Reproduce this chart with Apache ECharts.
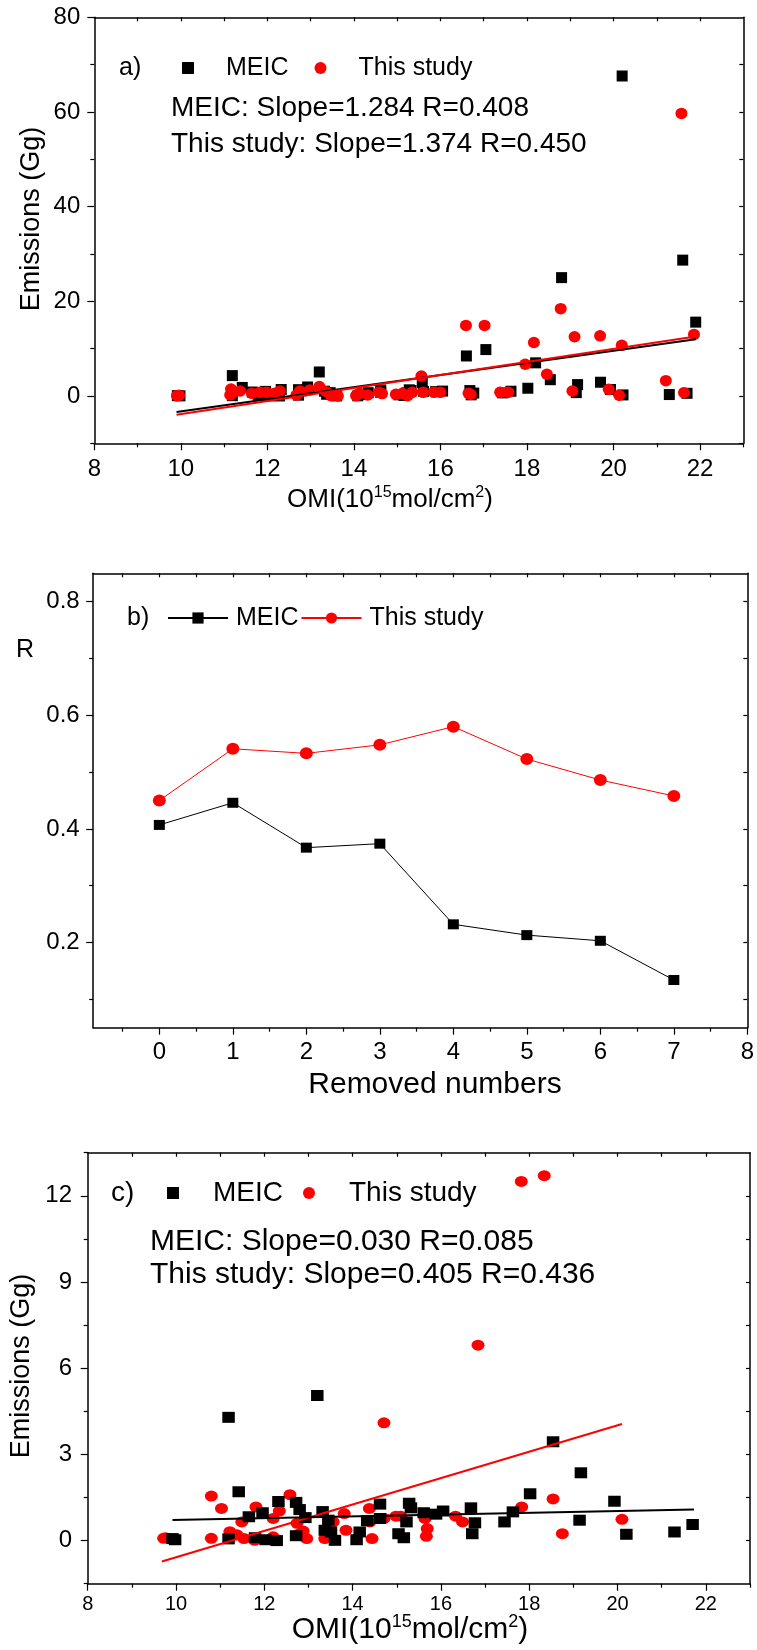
<!DOCTYPE html>
<html><head><meta charset="utf-8">
<script src="https://cdn.jsdelivr.net/npm/echarts@6/dist/echarts.min.js"></script>
<style>
html,body{margin:0;padding:0;background:#fff;}
#wrap{position:relative;width:757px;height:1650px;background:#fff;}
.panel{position:absolute;left:0;width:757px;}
</style></head><body>
<div id="wrap">
<div id="pa" class="panel" style="top:0;height:520px"></div>
<div id="pb" class="panel" style="top:520px;height:580px"></div>
<div id="pc" class="panel" style="top:1100px;height:550px"></div>
</div>
<script>
// ---------------- Panel a) data ----------------
const omiA_meic = [9.92,9.98,11.19,11.19,11.42,11.65,11.79,11.96,12.03,12.28,12.32,12.72,12.72,12.8,12.93,13.2,13.32,13.37,13.45,13.51,13.6,14.09,14.16,14.33,14.62,14.62,15.04,15.16,15.22,15.28,15.32,15.58,15.61,15.89,16.05,16.6,16.68,16.71,16.77,17.05,17.44,17.63,18.02,18.2,18.54,18.8,19.14,19.17,19.7,19.93,20.2,20.22,21.29,21.6,21.7,21.9];
const meicA = [0.07,0.03,4.3,0.06,1.8,0.83,0.1,0.97,0.03,0.0,1.36,1.33,0.17,1.08,1.9,5.07,1.01,0.36,0.71,0.3,0.01,0.03,0.3,0.69,1.27,0.77,0.24,0.1,0.65,1.3,1.14,2.8,0.97,0.92,1.03,8.45,1.14,0.24,0.62,9.8,0.65,1.0,1.63,7.0,3.44,25.0,0.71,2.4,2.9,1.37,67.6,0.22,0.3,28.7,0.56,15.6];
const omiA_study = [9.91,9.96,11.14,11.16,11.2,11.37,11.64,11.83,11.98,12.17,12.29,12.67,12.75,12.98,13.2,13.36,13.47,13.63,14.05,14.13,14.32,14.58,14.65,14.97,15.12,15.24,15.35,15.56,15.6,15.85,16.0,16.59,16.65,16.7,17.02,17.38,17.57,17.96,18.16,18.46,18.78,19.05,19.1,19.69,19.89,20.13,20.19,21.21,21.57,21.63,21.86];
const studyA = [0.07,0.15,0.2,1.48,0.8,1.06,0.56,0.77,0.77,0.56,1.06,0.2,1.06,1.27,2.0,0.9,0.07,0.0,0.07,0.56,0.2,0.77,0.5,0.35,0.56,0.07,0.77,4.2,0.77,0.77,0.77,14.9,0.56,0.3,14.9,0.77,0.77,6.7,11.3,4.6,18.45,1.06,12.5,12.7,1.4,0.14,10.7,3.24,59.7,0.7,13.0];
const fitA_meic = [[9.9,-3.4],[21.9,12.0]];
const fitA_study = [[9.9,-3.95],[21.9,12.55]];
const xTicksA = [8,10,12,14,16,18,20,22];
const xMinorA = [9,11,13,15,17,19,21,23];
const xFrameA = [9,10,11,12,13,14,15,16,17,18,19,20,21,22];
const yTicksA = [0,20,40,60,80];
const yMinorA = [-10,10,30,50,70];
const yFrameA = [-10,0,10,20,30,40,50,60,70];
const statsA = ['MEIC: Slope=1.284 R=0.408','This study: Slope=1.374 R=0.450'];

// ---------------- Panel b) data ----------------
const removed = [0,1,2,3,4,5,6,7];
const rMeic = [0.407,0.446,0.367,0.374,0.232,0.213,0.203,0.134];
const rStudy = [0.450,0.541,0.533,0.548,0.580,0.523,0.486,0.458];
const xTicksB = [0,1,2,3,4,5,6,7,8];
const xMinorB = [-0.5,0.5,1.5,2.5,3.5,4.5,5.5,6.5,7.5];
const xFrameB = [-0.5,0,0.5,1,1.5,2,2.5,3,3.5,4,4.5,5,5.5,6,6.5,7,7.5];
const yTicksB = [0.2,0.4,0.6,0.8];
const yMinorB = [0.1,0.3,0.5,0.7];
const yFrameB = [0.1,0.2,0.3,0.4,0.5,0.6,0.7,0.8];

// ---------------- Panel c) data ----------------
const omiC_meic = [9.92,9.98,11.19,11.19,11.42,11.65,11.79,11.96,12.03,12.28,12.32,12.72,12.72,12.8,12.93,13.2,13.32,13.37,13.45,13.51,13.6,14.09,14.16,14.33,14.62,14.62,15.04,15.16,15.22,15.28,15.32,15.61,15.89,16.05,16.68,16.71,16.77,17.44,17.63,18.02,18.54,19.14,19.17,19.93,20.2,21.29,21.7];
const meicC = [0.07,0.03,4.29,0.06,1.7,0.83,0.1,0.97,0.03,0.0,1.36,1.33,0.17,1.08,0.8,5.05,1.01,0.36,0.71,0.3,0.01,0.03,0.3,0.69,1.27,0.77,0.24,0.1,0.65,1.3,1.14,0.97,0.92,1.03,1.14,0.24,0.62,0.65,1.0,1.63,3.44,0.71,2.36,1.37,0.22,0.3,0.56];
const omiC_study = [9.72,9.76,10.8,10.8,11.03,11.22,11.38,11.49,11.54,11.81,11.78,12.2,12.2,12.34,12.58,12.74,12.8,12.88,12.96,13.37,13.56,13.81,13.85,14.38,14.39,14.44,14.71,14.71,14.98,15.09,15.64,15.69,15.67,16.33,16.49,16.84,17.82,17.83,18.34,18.54,18.75,20.1];
const studyC = [0.08,0.1,1.55,0.08,1.12,0.31,0.2,0.65,0.07,1.17,0.01,0.77,0.13,1.03,1.6,0.6,0.24,0.33,0.07,0.07,0.65,0.94,0.36,1.12,0.65,0.07,4.1,0.77,0.85,0.85,0.77,0.42,0.15,0.85,0.65,6.8,12.5,1.17,12.7,1.45,0.24,0.74];
const fitC_meic = [[9.92,0.72],[21.73,1.08]];
const fitC_study = [[9.68,-0.73],[20.1,4.06]];
const xTicksC = [8,10,12,14,16,18,20,22];
const xMinorC = [9,11,13,15,17,19,21,23];
const xFrameC = [9,10,11,12,13,14,15,16,17,18,19,20,21,22];
const yTicksC = [0,3,6,9,12];
const yMinorC = [-1.5,1.5,4.5,7.5,10.5,13.5];
const yFrameC = [0,1.5,3,4.5,6,7.5,9,10.5,12];
const statsC = ['MEIC: Slope=0.030 R=0.085','This study: Slope=0.405 R=0.436'];

const names = ['MEIC','This study'];

// ---------------- helpers ----------------
const FONT = "'Liberation Sans', Arial, Helvetica, sans-serif";
const BLACK = '#000000', RED = '#ff0000';
const pair = (xs, ys) => xs.map((x, i) => [x, ys[i]]);

function makeAxes(dim, min, max, major, minor, frame, label) {
  const lineStyle = {color: BLACK, width: 1.5};
  const tickStyle = {color: BLACK, width: 1.2};
  const isX = dim === 'x';
  return [
    {type:'value', min, max, position: isX ? 'bottom' : 'left',
     axisLine:{show:true, onZero:false, lineStyle},
     axisTick:{show:true, customValues: major, length:7, lineStyle: tickStyle},
     axisLabel:Object.assign({show:true, customValues: major, color: BLACK, fontFamily: FONT}, label),
     splitLine:{show:false}},
    {type:'value', min, max, position: isX ? 'bottom' : 'left',
     axisLine:{show:false, onZero:false},
     axisTick:{show:true, customValues: minor, length:4, lineStyle: tickStyle},
     axisLabel:{show:false}, splitLine:{show:false}},
    {type:'value', min, max, position: isX ? 'top' : 'right',
     axisLine:{show:true, onZero:false, lineStyle},
     axisTick:{show:true, inside:true, customValues: frame, length:4, lineStyle: tickStyle},
     axisLabel:{show:false}, splitLine:{show:false}}
  ];
}

function txt(x, y, text, size, extra) {
  return {type:'text', x, y, silent:true,
    style:Object.assign({text, fontSize:size, fontFamily:FONT, fill:BLACK, align:'left', verticalAlign:'middle'}, extra || {})};
}
function vtxt(x, y, text, size) {
  return {type:'text', x, y, rotation:Math.PI/2, silent:true,
    style:{text, fontSize:size, fontFamily:FONT, fill:BLACK, align:'center', verticalAlign:'middle'}};
}
function omiTitle(x, y, size) {
  return {type:'text', x, y, silent:true,
    style:{text:'{a|OMI(10}{s|15}{a|mol/cm}{s|2}{a|)}', align:'center', verticalAlign:'middle',
      rich:{a:{fontSize:size, fontFamily:FONT, fill:BLACK, lineHeight:size+4},
            s:{fontSize:Math.round(size*0.6), fontFamily:FONT, fill:BLACK, verticalAlign:'top', lineHeight:Math.round(size*0.6)}}}};
}
function scatterLegend(left, top, gap, pad, size) {
  return {data:names, left, top, padding:0, itemWidth:12, itemHeight:12, itemGap:gap, selectedMode:false,
    itemStyle:{opacity:1},
    textStyle:{fontSize:size, fontFamily:FONT, color:BLACK, padding:[0,0,0,pad], lineHeight:30}};
}

// ---------------- Panel a ----------------
const chartA = echarts.init(document.getElementById('pa'));
chartA.setOption({
  animation:false,
  grid:{left:94.3, top:17.3, width:649, height:426},
  xAxis: makeAxes('x', 8, 23, xTicksA, xMinorA, xFrameA, {fontSize:24, margin:14}),
  yAxis: makeAxes('y', -10, 80, yTicksA, yMinorA, yFrameA, {fontSize:24, margin:14}),
  legend: scatterLegend(182, 53, 26, 27, 25),
  graphic:[
    txt(119, 68, 'a)', 25),
    txt(171, 108, statsA[0], 28),
    txt(171, 144, statsA[1], 28),
    vtxt(31.5, 219, 'Emissions (Gg)', 27),
    omiTitle(390, 500, 26)
  ],
  series:[
    {name:names[0], type:'scatter', data:pair(omiA_meic, meicA), symbol:'rect', symbolSize:[11,11], itemStyle:{color:BLACK, opacity:1}, z:2},
    {name:names[1], type:'scatter', data:pair(omiA_study, studyA), symbol:'circle', symbolSize:[12,11.5], itemStyle:{color:RED, opacity:1}, z:3},
    {name:'MEIC fit', type:'line', data:fitA_meic, symbol:'none', lineStyle:{color:BLACK, width:2}, silent:true, z:4},
    {name:'This study fit', type:'line', data:fitA_study, symbol:'none', lineStyle:{color:RED, width:2}, silent:true, z:4}
  ]
});

// ---------------- Panel b ----------------
const chartB = echarts.init(document.getElementById('pb'));
chartB.setOption({
  animation:false,
  grid:{left:93.2, top:53.3, width:655.1, height:454.4},
  xAxis: makeAxes('x', -0.9, 8, xTicksB, xMinorB, xFrameB, {fontSize:24, margin:13}),
  yAxis: makeAxes('y', 0.05, 0.85, yTicksB, yMinorB, yFrameB, {fontSize:24, margin:13.5, formatter:(v)=>Number(v).toFixed(1)}),
  legend:{data:names, left:167, top:83, padding:0, itemWidth:60, itemHeight:14, itemGap:2, selectedMode:false,
    textStyle:{fontSize:25, fontFamily:FONT, color:BLACK, padding:[0,0,0,3], lineHeight:30}},
  graphic:[
    txt(127, 98, 'b)', 25),
    txt(25, 130, 'R', 25, {align:'center'}),
    txt(435, 565, 'Removed numbers', 30, {align:'center'})
  ],
  series:[
    {name:names[0], type:'line', data:pair(removed, rMeic), symbol:'rect', symbolSize:[11,10], itemStyle:{color:BLACK}, lineStyle:{color:BLACK, width:1}},
    {name:names[1], type:'line', data:pair(removed, rStudy), symbol:'circle', symbolSize:[13,12], itemStyle:{color:RED}, lineStyle:{color:RED, width:1}}
  ]
});

// ---------------- Panel c ----------------
const chartC = echarts.init(document.getElementById('pc'));
chartC.setOption({
  animation:false,
  grid:{left:87.7, top:52.7, width:662.3, height:431},
  xAxis: makeAxes('x', 8, 23, xTicksC, xMinorC, xFrameC, {fontSize:20, margin:11}),
  yAxis: makeAxes('y', -1.5, 13.5, yTicksC, yMinorC, yFrameC, {fontSize:24, margin:15.7}),
  legend: scatterLegend(167, 78, 20, 29, 28),
  graphic:[
    txt(111, 93, 'c)', 28),
    txt(150, 142, statsC[0], 30),
    txt(150, 175, statsC[1], 30),
    vtxt(21.5, 266, 'Emissions (Gg)', 27),
    omiTitle(410, 530, 30)
  ],
  series:[
    {name:names[1], type:'scatter', data:pair(omiC_study, studyC), symbol:'circle', symbolSize:[13,11], itemStyle:{color:RED, opacity:1}, z:2},
    {name:names[0], type:'scatter', data:pair(omiC_meic, meicC), symbol:'rect', symbolSize:[12.5,11], itemStyle:{color:BLACK, opacity:1}, z:3},
    {name:'This study fit', type:'line', data:fitC_study, symbol:'none', lineStyle:{color:RED, width:2}, silent:true, z:4},
    {name:'MEIC fit', type:'line', data:fitC_meic, symbol:'none', lineStyle:{color:BLACK, width:2}, silent:true, z:4}
  ]
});
</script>
</body></html>
